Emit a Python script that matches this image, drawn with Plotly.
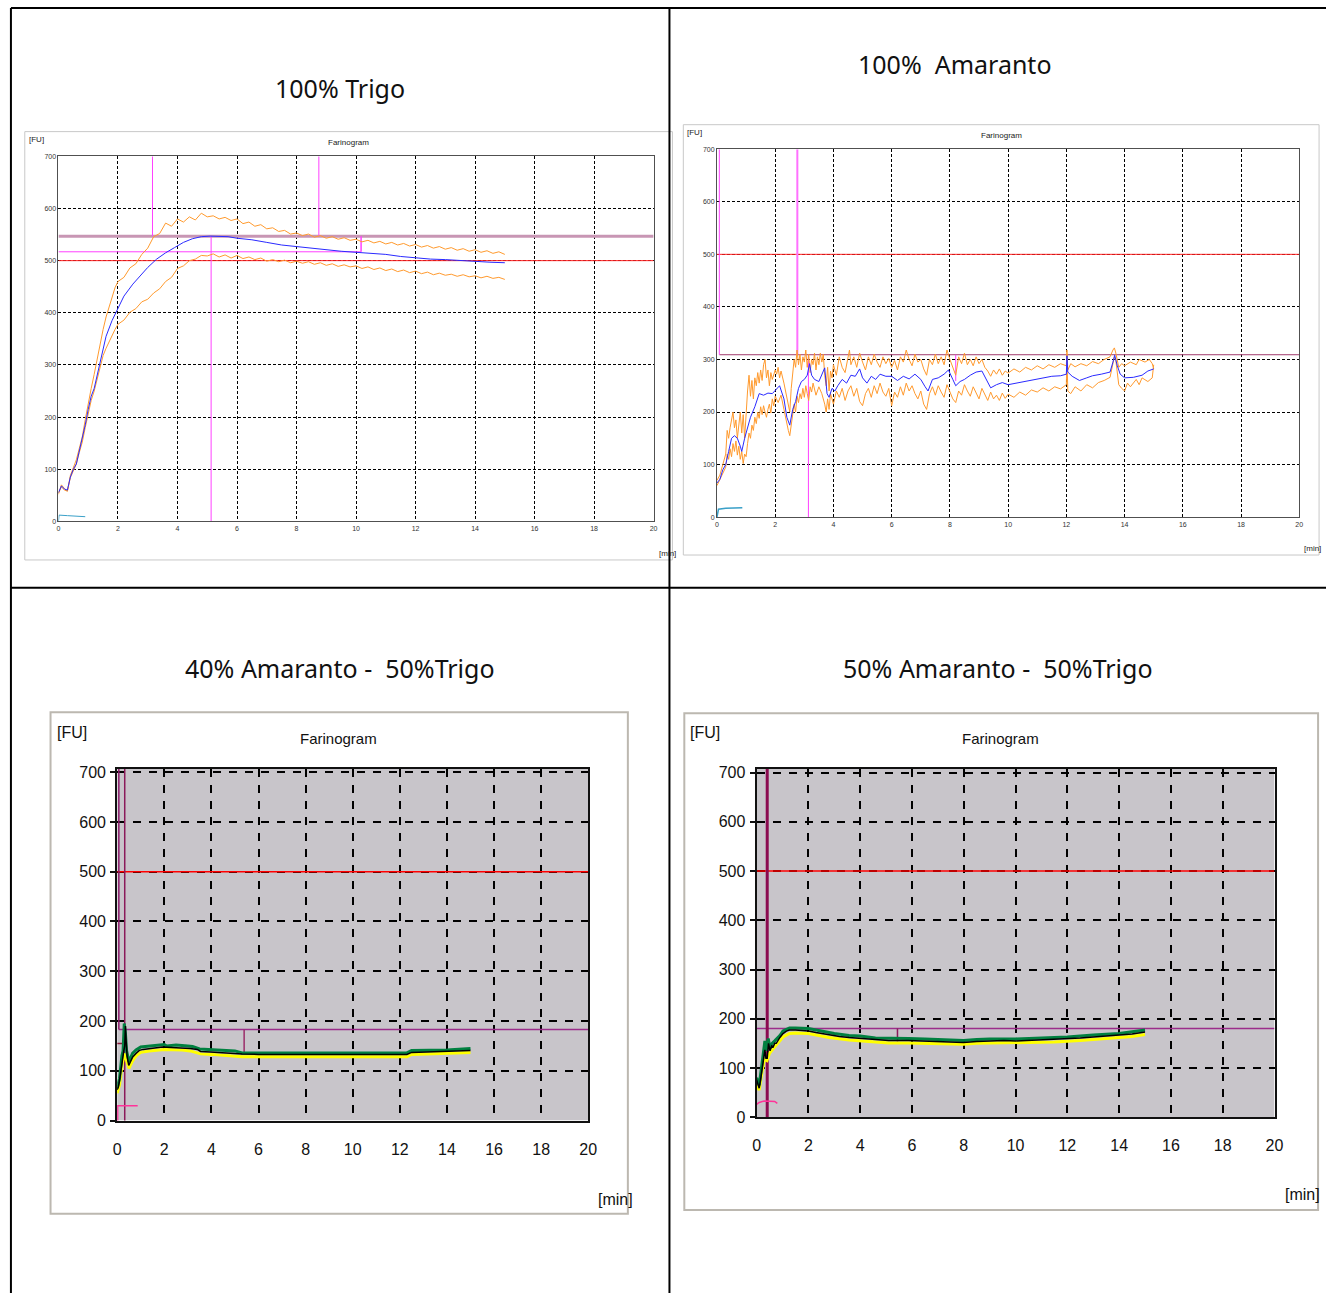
import plotly.graph_objects as go

W, H = 1335, 1302

# ---------------- DATA ----------------
# Panel 1: 100% Trigo
p1_t_mid = [0, 0.1, 0.2, 0.3, 0.4, 0.5, 0.6, 0.7, 0.8, 0.9, 1.0, 1.1, 1.2, 1.3, 1.4, 1.5, 1.6, 1.8, 2.0, 2.2,
            2.5, 2.8, 3.0, 3.3, 3.6, 3.9, 4.2, 4.5, 4.8, 5.1, 5.4, 5.7, 6.0, 6.5, 7.0, 7.5, 8.0, 8.5, 9.0, 9.5,
            10.0, 10.5, 11.0, 11.5, 12.0, 12.5, 13.0, 13.5, 14.0, 14.5, 15.0]
p1_mid = [55, 68, 62, 60, 85, 100, 110, 135, 155, 185, 215, 240, 255, 280, 310, 335, 355, 385, 410, 432,
          455, 475, 487, 503, 515, 525, 535, 542, 546, 547, 547, 546, 543, 540, 535, 530, 527, 524, 520, 518,
          516, 514, 512, 508, 505, 503, 502, 500, 499, 497, 496]
p1_t_band = [0, 0.1, 0.2, 0.3, 0.4, 0.5, 0.6, 0.7, 0.8, 0.9, 1.0, 1.1, 1.2, 1.3, 1.4, 1.5, 1.6, 1.7, 1.8, 1.9, 2.0,
             2.2, 2.4, 2.6, 2.8, 3.0, 3.2, 3.4, 3.6, 3.8, 4.0, 4.2, 4.4, 4.6, 4.8, 5.0,
             5.2, 5.4, 5.6, 5.8, 6.0, 6.2, 6.4, 6.6, 6.8, 7.0, 7.2, 7.4, 7.6, 7.8, 8.0, 8.2, 8.4, 8.6, 8.8, 9.0,
             9.2, 9.4, 9.6, 9.8, 10.0,
             10.2, 10.4, 10.6, 10.8, 11.0, 11.2, 11.4, 11.6, 11.8, 12.0, 12.2, 12.4, 12.6, 12.8, 13.0, 13.2,
             13.4, 13.6, 13.8, 14.0, 14.2, 14.4, 14.6, 14.8, 15.0]
p1_upper = [52, 70, 63, 58, 88, 104, 118, 140, 162, 195, 228, 255, 282, 312, 342, 368, 392, 410, 428, 448, 460,
            468, 486, 494, 512, 524, 546, 552, 572, 566, 580, 574, 584, 578, 591, 584,
            586, 580, 583, 577, 580, 571, 574, 566, 569, 561, 563, 556, 558, 551, 553, 548, 551, 545, 548, 543,
            546, 541, 544, 539, 541,
            536, 539, 534, 537, 532, 535, 530, 533, 528, 531, 526, 529, 524, 527, 522, 525,
            520, 523, 518, 521, 516, 519, 514, 517, 512]
p1_lower = [55, 66, 60, 58, 84, 98, 110, 132, 152, 180, 206, 232, 250, 272, 298, 318, 332, 345, 355, 368, 378,
            386, 401, 408, 421, 426, 438, 446, 460, 468, 485, 490, 500, 503, 510, 509,
            513, 507, 511, 505, 510, 504, 507, 502, 505, 499, 502, 498, 501, 496, 499, 495, 498, 493, 496, 491,
            494, 489, 492, 488, 490,
            485, 488, 483, 486, 481, 484, 479, 482, 477, 480, 475, 478, 473, 476, 472, 474,
            470, 473, 469, 471, 467, 470, 466, 468, 464]
p1_t_temp = [0, 0.02, 0.3, 0.6, 0.9]
p1_temp = [0, 12, 11, 10, 9]
p1_consistency = 500
p1_peak_level = 547
p1_mid_level = 517
p1_arrival_t = 3.16
p1_peak_t = 5.13
p1_departure_t = 8.75
p1_mark_t = 10.17

# Panel 2: 100% Amaranto
p2_t_mid = [0, 0.1, 0.2, 0.3, 0.4, 0.5, 0.6, 0.7, 0.8, 0.85, 0.95, 1.05, 1.15, 1.3, 1.45, 1.6, 1.75, 1.9, 2.05,
            2.15, 2.3, 2.4, 2.5, 2.6, 2.7, 2.8, 2.9, 3.0, 3.1, 3.18, 3.25, 3.35, 3.5, 3.6, 3.7, 3.78, 3.85, 3.95,
            4.05, 4.15, 4.3, 4.45, 4.6, 4.75, 4.9, 5.0, 5.15, 5.3, 5.45, 5.6, 5.8, 6.0, 6.2, 6.4, 6.6, 6.8, 7.0,
            7.15, 7.25, 7.4, 7.6, 7.8, 7.95, 8.1, 8.2, 8.35, 8.5, 8.7, 8.9, 9.1, 9.25, 9.4, 9.6, 9.8, 10.0, 10.3,
            10.6, 10.9, 11.2, 11.5, 11.8, 12.0, 12.02, 12.05, 12.2, 12.45, 12.7, 12.9, 13.2, 13.5, 13.6, 13.66,
            13.75, 13.85, 14.0, 14.3, 14.6, 14.8, 15.0]
p2_mid = [65, 72, 90, 100, 125, 150, 155, 150, 135, 125, 150, 170, 190, 210, 235, 232, 236, 235, 245,
          250, 225, 190, 175, 205, 220, 245, 258, 262, 270, 292, 270, 262, 258, 272, 284, 235, 228, 245,
          240, 250, 262, 255, 270, 268, 282, 265, 255, 268, 262, 272, 268, 268, 260, 268, 263, 272, 262,
          248, 240, 262, 265, 272, 280, 262, 250, 258, 262, 270, 276, 278, 262, 246, 252, 256, 252, 255,
          259, 262, 264, 268, 269, 272, 307, 276, 268, 260, 265, 269, 272, 276, 295, 308,
          288, 272, 265, 266, 270, 278, 282]
p2_t_upper = [0.0, 0.1, 0.2, 0.3, 0.35, 0.4, 0.45, 0.5, 0.55, 0.6, 0.65, 0.7, 0.75, 0.8, 0.85, 0.9, 0.95, 1.0,
              1.05, 1.1, 1.15, 1.2, 1.25, 1.3, 1.35, 1.4, 1.45, 1.5, 1.55, 1.6, 1.65, 1.7, 1.75, 1.8, 1.85, 1.9,
              2.0, 2.05, 2.1, 2.15, 2.2, 2.3, 2.35, 2.4, 2.45, 2.5, 2.55, 2.6, 2.65, 2.7, 2.75, 2.8, 2.85, 2.9,
              2.95, 3.0, 3.05, 3.1, 3.15, 3.2, 3.25, 3.3, 3.35, 3.4, 3.45, 3.5, 3.55, 3.6, 3.65, 3.7, 3.75, 3.8,
              3.85, 3.9, 3.95, 4.0, 4.1, 4.2, 4.3, 4.4, 4.5, 4.55, 4.6, 4.7, 4.8, 4.9, 5.0, 5.1, 5.2, 5.3, 5.4,
              5.5, 5.6, 5.7, 5.8, 5.9, 6.0, 6.1, 6.2, 6.3, 6.4, 6.5, 6.6, 6.7, 6.8, 6.9, 7.0, 7.1, 7.2, 7.3,
              7.4, 7.5, 7.6, 7.7, 7.8, 7.9, 8.0, 8.1, 8.2, 8.3, 8.4, 8.5, 8.6, 8.7, 8.8, 8.9, 9.0, 9.1, 9.2,
              9.3, 9.4, 9.5, 9.6, 9.7, 9.8, 9.9, 10.0, 10.2, 10.4, 10.6, 10.8, 11.0, 11.2, 11.4, 11.6, 11.8,
              12.0, 12.02, 12.05, 12.15, 12.3, 12.5, 12.7, 12.9, 13.1, 13.3, 13.5, 13.6, 13.65, 13.7, 13.75,
              13.8, 13.9, 14.0, 14.2, 14.4, 14.5, 14.7, 14.85, 14.95, 15.0]
p2_upper = [70, 80, 100, 120, 165, 150, 170, 190, 200, 170, 185, 150, 175, 200, 160, 195, 150, 200,
            240, 270, 230, 260, 225, 265, 250, 275, 255, 280, 260, 290, 300, 265, 280, 250, 275, 262,
            280, 272, 285, 265, 278, 255, 240, 230, 215, 200, 245, 270, 300, 285, 318, 290, 310, 280,
            305, 295, 318, 285, 310, 275, 300, 290, 312, 280, 305, 290, 312, 295, 310, 270, 250, 285,
            240, 278, 265, 290, 270, 305, 285, 275, 300, 318, 290, 305, 285, 312, 295, 280, 305, 290, 310,
            295, 285, 305, 292, 302, 285, 298, 280, 305, 295, 318, 300, 288, 310, 295, 300, 282, 270, 300,
            290, 310, 292, 305, 290, 318, 300, 285, 270, 305, 292, 312, 290, 300, 288, 305, 292, 300, 285,
            278, 268, 280, 272, 282, 270, 278, 274, 282, 276, 285, 280, 288, 282, 290, 285, 292,
            288, 318, 280, 292, 286, 292, 288, 296, 292, 300, 305, 318, 322, 312, 295,
            285, 292, 288, 295, 290, 300, 295, 300, 292, 282]
p2_t_lower = [0.0, 0.1, 0.2, 0.3, 0.35, 0.4, 0.45, 0.5, 0.55, 0.6, 0.65, 0.7, 0.75, 0.8, 0.85, 0.9, 0.95, 1.0,
              1.05, 1.1, 1.15, 1.2, 1.25, 1.3, 1.35, 1.4, 1.45, 1.5, 1.55, 1.6, 1.65, 1.7, 1.75, 1.8, 1.85, 1.9,
              1.95, 2.0, 2.1, 2.2, 2.3, 2.35, 2.4, 2.45, 2.5, 2.55, 2.6, 2.65, 2.7, 2.75, 2.8, 2.85, 2.9, 2.95,
              3.0, 3.05, 3.1, 3.15, 3.2, 3.25, 3.3, 3.35, 3.4, 3.5, 3.6, 3.7, 3.75, 3.8, 3.85, 3.9, 4.0, 4.1,
              4.2, 4.3, 4.4, 4.5, 4.6, 4.7, 4.8, 4.9, 5.0, 5.1, 5.2, 5.3, 5.4, 5.5, 5.6, 5.7, 5.8, 5.9, 6.0,
              6.1, 6.2, 6.3, 6.4, 6.5, 6.6, 6.7, 6.8, 6.9, 7.0, 7.1, 7.2, 7.3, 7.4, 7.5, 7.6, 7.7, 7.8, 7.9,
              8.0, 8.1, 8.2, 8.3, 8.4, 8.5, 8.6, 8.7, 8.8, 8.9, 9.0, 9.1, 9.2, 9.3, 9.4, 9.5, 9.6, 9.7, 9.8,
              9.9, 10.0, 10.2, 10.4, 10.6, 10.8, 11.0, 11.2, 11.4, 11.6, 11.8, 12.0, 12.02, 12.05, 12.15, 12.3,
              12.5, 12.7, 12.9, 13.1, 13.3, 13.5, 13.6, 13.65, 13.7, 13.75, 13.8, 13.9, 14.0, 14.1, 14.2, 14.4,
              14.5, 14.6, 14.8, 14.95, 15.0]
p2_lower = [60, 72, 85, 95, 120, 110, 130, 115, 140, 125, 145, 118, 135, 110, 125, 102, 120, 115,
            140, 160, 150, 175, 165, 190, 178, 200, 188, 210, 195, 212, 200, 190, 205, 215, 198, 225,
            212, 230, 218, 232, 205, 190, 175, 165, 155, 178, 195, 215, 200, 230, 218, 235, 225, 245,
            228, 250, 235, 222, 248, 238, 255, 240, 232, 248, 235, 215, 200, 225, 205, 235, 215, 240,
            228, 245, 222, 240, 250, 230, 245, 220, 212, 235, 245, 228, 250, 235, 255, 238, 230, 245, 212,
            238, 228, 248, 232, 255, 240, 250, 235, 225, 240, 215, 205, 235, 248, 232, 250, 238, 228, 252,
            240, 225, 218, 240, 232, 252, 240, 230, 248, 235, 225, 245, 232, 222, 238, 225, 232, 222, 236,
            226, 234, 228, 238, 232, 242, 238, 246, 240, 248, 244, 252, 310, 240, 235, 248,
            240, 252, 246, 256, 260, 266, 290, 305, 298, 270, 252, 245, 240, 255, 248, 262,
            252, 265, 258, 265, 290]
p2_t_temp = [0, 0.05, 0.3, 0.6, 0.87]
p2_temp = [0, 15, 17, 17, 18]
p2_consistency = 500
p2_peak_level = 309
p2_start_t = 0.08
p2_arrival_t = 2.76
p2_peak_t = 3.14
p2_mark_t = 8.2
p2_mark_low = 259

# Panel 3: 40% Amaranto - 50% Trigo
p3_t_mid = [0, 0.05, 0.1, 0.15, 0.2, 0.24, 0.28, 0.32, 0.35, 0.38, 0.42, 0.49, 0.55, 0.66, 0.8, 0.94, 1.1, 1.36,
            1.6, 1.92, 2.3, 2.76, 3.1, 3.4, 3.54, 3.96, 4.45, 5.0, 5.3, 6.0, 6.7, 7.5, 8.5, 9.5, 10.5, 11.5,
            12.3, 12.5, 13.0, 13.5, 14.0, 14.5, 15.0]
p3_mid = [62, 68, 81, 100, 120, 134, 140, 150, 190, 160, 130, 111, 118, 128, 135, 141, 143, 145,
          147, 148, 147, 146, 145, 143, 139, 138, 136, 135, 134, 133, 133, 133, 133, 133, 133, 133,
          133, 137, 138, 138, 139, 140, 141]
p3_t_upper = [0, 0.1, 0.2, 0.25, 0.3, 0.35, 0.4, 0.5, 0.65, 0.8, 1.0, 1.36, 1.6, 2.0, 2.1, 2.5, 3.0, 3.2, 3.5,
              4.0, 4.5, 5.0, 5.3, 6.0, 7.0, 8.0, 9.0, 10.0, 11.0, 12.3, 12.5, 13.0, 14.0, 15.0]
p3_upper = [65, 85, 130, 140, 195, 175, 140, 118, 135, 142, 148, 150, 151, 153, 150, 152, 150, 149, 144,
            143, 141, 140, 136, 136, 136, 136, 136, 136, 136, 136, 141, 141, 142, 145]
p3_t_lower = [0, 0.1, 0.2, 0.3, 0.4, 0.5, 0.65, 0.8, 1.0, 1.36, 2.0, 2.76, 3.1, 3.54, 4.0, 4.45, 5.0, 5.3, 6.0,
              7.0, 8.0, 9.0, 10.0, 11.0, 12.3, 12.5, 13.0, 14.0, 15.0]
p3_lower = [55, 72, 110, 135, 120, 105, 120, 130, 137, 140, 143, 142, 140, 134, 133, 131, 130, 128, 128,
            128, 128, 128, 128, 128, 128, 133, 134, 135, 137]
p3_t_temp = [0, 0.02, 0.02, 0.87]
p3_temp = [0, 0, 30, 30]
p3_consistency = 500
p3_peak_level = 183
p3_start_t = 0.07
p3_arrival_t = 0.32
p3_arrival_level = 155
p3_mark_t = 5.39
p3_mark_low = 134

# Panel 4: 50% Amaranto - 50% Trigo
p4_t_mid = [0, 0.05, 0.1, 0.15, 0.23, 0.28, 0.32, 0.36, 0.41, 0.46, 0.52, 0.58, 0.64, 0.7, 0.76, 0.9, 1.02, 1.15,
            1.27, 1.5, 1.78, 2.0, 2.29, 2.5, 2.8, 3.2, 3.57, 4.0, 4.59, 5.1, 5.86, 6.5, 7.13, 7.99, 8.5, 9.0,
            9.55, 10.0, 10.5, 11.0, 11.5, 12.0, 12.5, 13.0, 13.5, 14.0, 14.5, 15.0]
p4_mid = [76, 65, 59, 75, 103, 125, 137, 120, 120, 150, 135, 145, 143, 150, 150, 162, 170, 175,
          177, 177, 176, 175, 172, 170, 167, 164, 162, 160, 158, 156, 156, 155, 154, 152, 154, 155,
          156, 155, 156, 157, 158, 159, 161, 163, 165, 166, 169, 173]
p4_t_upper = [0, 0.1, 0.2, 0.28, 0.32, 0.38, 0.45, 0.52, 0.6, 0.7, 0.9, 1.02, 1.27, 1.5, 2.0, 2.5, 3.0, 3.57,
              4.0, 4.59, 5.1, 5.86, 6.5, 7.13, 7.99, 8.5, 9.0, 10.0, 11.0, 12.0, 13.0, 14.0, 15.0]
p4_upper = [80, 65, 105, 145, 155, 135, 160, 140, 150, 155, 166, 175, 181, 181, 180, 175, 170, 166,
            165, 161, 160, 160, 159, 158, 156, 158, 159, 159, 161, 163, 167, 170, 177]
p4_t_lower = [0, 0.1, 0.2, 0.3, 0.4, 0.5, 0.7, 0.9, 1.02, 1.27, 1.5, 2.0, 2.29, 2.8, 3.57, 4.59, 5.1, 5.86,
              7.13, 7.99, 8.5, 9.55, 10.5, 11.5, 12.5, 13.5, 14.5, 15.0]
p4_lower = [65, 55, 90, 118, 115, 130, 143, 155, 163, 170, 171, 170, 167, 162, 157, 153, 151, 151,
            150, 148, 150, 151, 151, 153, 156, 160, 164, 168]
p4_t_temp = [0, 0.1, 0.3, 0.5, 0.7, 0.8]
p4_temp = [26, 30, 33, 33, 32, 28]
p4_consistency = 500
p4_peak_level = 180
p4_arrival_t = 0.41
p4_mark_t = 5.44
p4_mark_low = 154

x_ticks = [0, 2, 4, 6, 8, 10, 12, 14, 16, 18, 20]
y_ticks = [0, 100, 200, 300, 400, 500, 600, 700]

titles = ["100% Trigo", "100%\u00a0 Amaranto", "40% Amaranto -\u00a0 50%Trigo", "50% Amaranto -\u00a0 50%Trigo"]

# ---------------- HELPERS ----------------
def fx(p):
    return p / W

def fy(p):
    return 1 - p / H

fig = go.Figure()

def line(ax, xs, ys, color, width=1, dash=None):
    xa = "x" if ax == 1 else "x%d" % ax
    ya = "y" if ax == 1 else "y%d" % ax
    fig.add_trace(go.Scatter(x=xs, y=ys, mode="lines", xaxis=xa, yaxis=ya,
                             line=dict(color=color, width=width, dash=dash),
                             showlegend=False, hoverinfo="skip"))

ORANGE = "#ff9a2e"
BLUE = "#2a2aff"
MAG = "#ff40ff"

# Panel 1
line(1, [0, 20], [p1_consistency] * 2, "#ff2020", 1)
line(1, [0, 20], [p1_peak_level] * 2, "#c896b4", 3)
line(1, [0, p1_mark_t], [p1_mid_level] * 2, MAG, 1)
line(1, [p1_arrival_t] * 2, [p1_peak_level, 700], MAG, 1)
line(1, [p1_peak_t] * 2, [0, p1_peak_level], MAG, 1)
line(1, [p1_departure_t] * 2, [p1_peak_level, 700], MAG, 1)
line(1, [p1_mark_t] * 2, [p1_mid_level, p1_peak_level], MAG, 1.5)
line(1, p1_t_band, p1_upper, ORANGE, 1)
line(1, p1_t_band, p1_lower, ORANGE, 1)
line(1, p1_t_mid, p1_mid, BLUE, 1)
line(1, p1_t_temp, p1_temp, "#3aa0c8", 1)

# Panel 2
line(2, [0, 20], [p2_consistency] * 2, "#ff2020", 1)
line(2, [p2_start_t, 20], [p2_peak_level] * 2, "#a03c6c", 1)
line(2, [p2_start_t] * 2, [p2_peak_level, 700], MAG, 1)
line(2, [p2_arrival_t] * 2, [p2_peak_level, 700], "#ff70ff", 2)
line(2, [p2_peak_t] * 2, [0, p2_peak_level], MAG, 1)
line(2, [p2_mark_t] * 2, [p2_mark_low, p2_peak_level], MAG, 1)
line(2, p2_t_upper, p2_upper, ORANGE, 1)
line(2, p2_t_lower, p2_lower, ORANGE, 1)
line(2, p2_t_mid, p2_mid, BLUE, 1)
line(2, p2_t_temp, p2_temp, "#3aa0c8", 1.5)

# Panel 3
line(3, [0, 20], [p3_consistency] * 2, "#ff0000", 1.5)
line(3, [p3_start_t, 20], [p3_peak_level] * 2, "#9b2d8a", 1.5)
line(3, [p3_start_t] * 2, [p3_peak_level, 707], "#8b1a6a", 1.5)
line(3, [p3_arrival_t] * 2, [-8, 707], "#8b1a5a", 1.5)
line(3, [0, p3_arrival_t], [p3_arrival_level] * 2, "#8b1a3a", 1.5)
line(3, [p3_mark_t] * 2, [p3_mark_low, p3_peak_level], "#9b2d6a", 1.5)
line(3, p3_t_lower, p3_lower, "#ffff00", 3)
line(3, p3_t_upper, p3_upper, "#008040", 3)
line(3, p3_t_mid, p3_mid, "#000000", 1.5)
line(3, p3_t_temp, p3_temp, "#ff3399", 1.5)

# Panel 4
line(4, [0, 20], [p4_consistency] * 2, "#ff0000", 1.5)
line(4, [0, 20], [p4_peak_level] * 2, "#9b2d8a", 1.5)
line(4, [p4_arrival_t] * 2, [-10, 708], "#8b0a50", 3)
line(4, [p4_mark_t] * 2, [p4_mark_low, p4_peak_level], "#8b1a5a", 1.5)
line(4, p4_t_lower, p4_lower, "#ffff00", 3)
line(4, p4_t_upper, p4_upper, "#008040", 3)
line(4, p4_t_mid, p4_mid, "#000000", 1.5)
line(4, p4_t_temp, p4_temp, "#ff3399", 1.5)

# ---------------- AXES ----------------
SMALL = dict(family="Liberation Sans, Arial", size=7, color="#333333")
BIGFONT = "Liberation Sans, Arial"
BIG = dict(family=BIGFONT, size=16, color="#111111")

def top_axes(xd, yd):
    xa = dict(domain=xd, range=[0, 20], tickvals=x_ticks, showline=True, mirror=True, linecolor="#505050",
              linewidth=1, showgrid=True, gridcolor="#000000", gridwidth=1, griddash="3px,2px",
              zeroline=False, ticks="", tickfont=SMALL, fixedrange=True)
    ya = dict(domain=yd, range=[0, 700], tickvals=y_ticks, showline=True, mirror=True, linecolor="#505050",
              linewidth=1, showgrid=True, gridcolor="#000000", gridwidth=1, griddash="3px,2px",
              zeroline=False, ticks="", tickfont=SMALL, fixedrange=True)
    return xa, ya

def bottom_axes(xd, yd, ymax):
    xa = dict(domain=xd, range=[0, 20], tickvals=x_ticks, showline=True, mirror=True, linecolor="#111111",
              linewidth=2, showgrid=True, gridcolor="#000000", gridwidth=2, griddash="8px,8px",
              zeroline=False, ticks="", tickfont=BIG, ticklabelstandoff=13, fixedrange=True)
    ya = dict(domain=yd, range=[0, ymax], tickvals=y_ticks, showline=True, mirror=True, linecolor="#111111",
              linewidth=2, showgrid=True, gridcolor="#000000", gridwidth=2, griddash="8px,8px",
              zeroline=False, ticks="outside", ticklen=5, tickwidth=1.5, tickcolor="#111111",
              tickfont=BIG, ticklabelstandoff=1, fixedrange=True)
    return xa, ya

x1, y1 = top_axes([fx(55), fx(656)], [fy(522), fy(153)])
x2, y2 = top_axes([fx(720), fx(1308)], [fy(517.7), fy(145.8)])
x3, y3 = bottom_axes([fx(114.3), fx(590)], [fy(1127.7), fy(772)], 707)
x4, y4 = bottom_axes([fx(760), fx(1283)], [fy(1124.3), fy(772)], 708)
x1["anchor"], y1["anchor"] = "y", "x"
x2["anchor"], y2["anchor"] = "y2", "x2"
x3["anchor"], y3["anchor"] = "y3", "x3"
x4["anchor"], y4["anchor"] = "y4", "x4"

# ---------------- SHAPES ----------------
shapes = []
def prect(x0, y0, x1_, y1_, line_color, width, fill=None):
    shapes.append(dict(type="rect", xref="paper", yref="paper", x0=fx(x0), x1=fx(x1_), y0=fy(y0), y1=fy(y1_),
                       line=dict(color=line_color, width=width), fillcolor=fill, layer="below"))

def pline(x0, y0, x1_, y1_, color="#000000", width=2):
    shapes.append(dict(type="line", xref="paper", yref="paper", x0=fx(x0), x1=fx(x1_), y0=fy(y0), y1=fy(y1_),
                       line=dict(color=color, width=width), layer="above"))

# panel frames
prect(21, 128, 675, 561, "#c8c8c8", 1, "#ffffff")
prect(686, 121, 1328, 556, "#c8c8c8", 1, "#ffffff")
prect(47, 715, 630, 1222, "#bcb8b0", 2, "#ffffff")
prect(687, 716, 1327, 1218, "#bcb8b0", 2, "#ffffff")

# gray plot backgrounds for bottom panels
for ax, ymax in [(3, 707), (4, 708)]:
    shapes.append(dict(type="rect", xref="x%d" % ax, yref="y%d" % ax, x0=0, x1=20, y0=0, y1=ymax,
                       fillcolor="#c8c5ca", line=dict(width=0), layer="below"))

# table borders
pline(7, 3, 1335, 3)
pline(7, 3, 7, 1302)
pline(672, 3, 672, 1302)
pline(7, 589, 1335, 589)

# ---------------- ANNOTATIONS ----------------
ann = []
def text(x, y, s, font, xanchor="center"):
    ann.append(dict(x=fx(x), y=fy(y), xref="paper", yref="paper", text=s, showarrow=False,
                    xanchor=xanchor, yanchor="middle", font=font))

TITLE = dict(family="Noto Sans, Open Sans", size=25, color="#111111")
text(339, 84, titles[0], TITLE)
text(960, 60, titles[1], TITLE)
text(339, 670, titles[2], TITLE)
text(1004, 670, titles[3], TITLE)

TINY = dict(family="Liberation Sans, Arial", size=8, color="#222222")
text(23, 136, "[FU]", TINY, "left")
text(348, 139, "Farinogram", TINY)
text(659, 554, "[min]", TINY, "left")
text(688, 129, "[FU]", TINY, "left")
text(1007, 132, "Farinogram", TINY)
text(1311, 549, "[min]", TINY, "left")

MED = dict(family=BIGFONT, size=16, color="#111111")
FAR = dict(family=BIGFONT, size=15, color="#111111")
text(51, 735, "[FU]", MED, "left")
text(338, 741, "Farinogram", FAR)
text(598, 1207, "[min]", MED, "left")
text(691, 735, "[FU]", MED, "left")
text(1006, 741, "Farinogram", FAR)
text(1292, 1202, "[min]", MED, "left")

fig.update_layout(width=W, height=H, margin=dict(l=0, r=0, t=0, b=0),
                  paper_bgcolor="#ffffff", plot_bgcolor="rgba(0,0,0,0)",
                  xaxis=x1, yaxis=y1, xaxis2=x2, yaxis2=y2, xaxis3=x3, yaxis3=y3, xaxis4=x4, yaxis4=y4,
                  shapes=shapes, annotations=ann, showlegend=False)

POST = ("document.documentElement.style.margin='0';document.body.style.margin='0';"
        "document.body.style.padding='0';document.body.style.overflow='hidden';")
fig.write_html("out.html", config={"displayModeBar": False}, post_script=POST)
